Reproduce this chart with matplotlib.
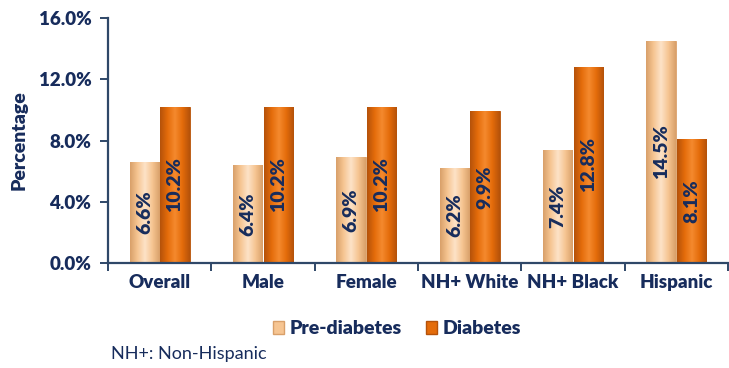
import matplotlib.pyplot as plt
import numpy as np
from matplotlib.colors import LinearSegmentedColormap
from matplotlib.patches import Patch

categories = ['Overall', 'Male', 'Female', 'NH+ White', 'NH+ Black', 'Hispanic']
pre_diabetes = [6.6, 6.4, 6.9, 6.2, 7.4, 14.5]
diabetes = [10.2, 10.2, 10.2, 9.9, 12.8, 8.1]
y_ticks = [0, 4, 8, 12, 16]

NAVY = '#172C5C'
AXIS = '#2F4868'
plt.rcParams['font.family'] = ['Lato', 'DejaVu Sans']

fig = plt.figure(figsize=(7.29, 3.68), dpi=100, facecolor='white')
ax = fig.add_axes([108 / 729, 1 - 263 / 368, 620 / 729, 245 / 368])

x = np.arange(len(categories))
w = 0.285

def shaded_bars(xs, vals, light, mid, dark):
    bars = ax.bar(xs, vals, w, color=mid, edgecolor=dark, linewidth=0.6, zorder=2)
    cmap = LinearSegmentedColormap.from_list('g', [dark, mid, light, mid, dark])
    grad = np.linspace(0, 1, 64).reshape(1, -1)
    for b in bars:
        x0, y0 = b.get_x(), b.get_y()
        im = ax.imshow(grad, cmap=cmap, aspect='auto', zorder=2.5,
                       extent=[x0, x0 + b.get_width(), y0, y0 + b.get_height()])
        im.set_clip_path(b)
    return bars

b1 = shaded_bars(x - w / 2 - 0.005, pre_diabetes, '#FDE3C8', '#F6C592', '#D9A06A')
b2 = shaded_bars(x + w / 2 + 0.005, diabetes, '#F58A2E', '#E46C0A', '#B5520A')

for bars, vals in ((b1, pre_diabetes), (b2, diabetes)):
    for b, v in zip(bars, vals):
        ax.text(b.get_x() + b.get_width() / 2, v / 2, f'{v:.1f}%', rotation=90,
                ha='center', va='center', fontsize=14, fontweight='heavy',
                color=NAVY, zorder=5)

ax.set_xlim(-0.5, len(categories) - 0.5)
ax.set_ylim(0, 16)
ax.set_yticks(y_ticks)
ax.set_yticklabels([f'{t:.1f}%' for t in y_ticks])
ax.set_xticks(np.arange(len(categories) + 1) - 0.5)
ax.set_xticklabels([])
ax.set_xticks(x, minor=True)
ax.set_xticklabels(categories, minor=True)
ax.tick_params(axis='x', which='minor', length=0, pad=8)
ax.tick_params(axis='x', which='major', length=6, width=1.4, color=AXIS)
ax.tick_params(axis='y', length=6, width=1.4, color=AXIS, pad=6)
for lab in ax.get_yticklabels() + ax.get_xticklabels(minor=True):
    lab.set_fontsize(13.5)
    lab.set_fontweight('heavy')
    lab.set_color(NAVY)

for s in ('top', 'right'):
    ax.spines[s].set_visible(False)
for s in ('left', 'bottom'):
    ax.spines[s].set_color(AXIS)
    ax.spines[s].set_linewidth(1.6)

ax.set_ylabel('Percentage', fontsize=14, fontweight='heavy', color=NAVY, labelpad=8)

handles = [Patch(facecolor='#F6C592', edgecolor='#D9A06A'),
           Patch(facecolor='#E46C0A', edgecolor='#B5520A')]
leg = fig.legend(handles, ['Pre-diabetes', 'Diabetes'], loc='center',
                 bbox_to_anchor=(397 / 729, 1 - 329 / 368), ncol=2, frameon=False,
                 handlelength=0.6, handleheight=0.6, handletextpad=0.3,
                 columnspacing=1.2, prop={'size': 14, 'weight': 'heavy'})
for t in leg.get_texts():
    t.set_color(NAVY)

fig.text(111 / 729, 1 - 354 / 368, 'NH+: Non-Hispanic', fontsize=13,
         color=NAVY, ha='left', va='center')

fig.savefig('out.png', dpi=100, facecolor='white')
